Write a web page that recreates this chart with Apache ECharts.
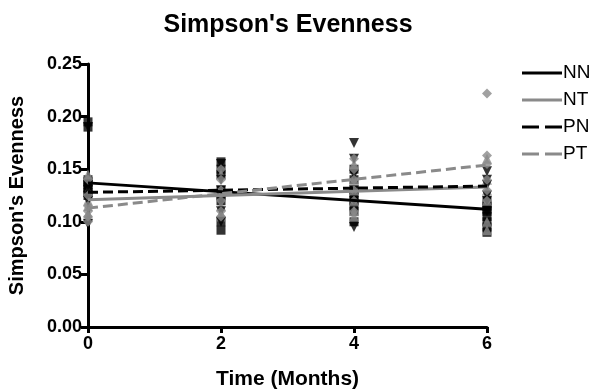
<!DOCTYPE html>
<html><head><meta charset="utf-8">
<script src="https://cdn.jsdelivr.net/npm/echarts@6/dist/echarts.min.js"></script>
<style>html,body{margin:0;padding:0;background:#fff}#c{width:591px;height:391px}</style>
</head><body><div id="c"></div>
<script>
const times = [0, 2, 4, 6];
const xTicks = ['0', '2', '4', '6'];
const yTicks = ['0.00', '0.05', '0.10', '0.15', '0.20', '0.25'];
const groups = ['NN', 'NT', 'PN', 'PT'];
// replicate values per time point
const nnPts = [
  [0.195, 0.190, 0.140, 0.135, 0.132, 0.128, 0.125, 0.138],
  [0.157, 0.150, 0.145, 0.130, 0.125, 0.100, 0.092, 0.120],
  [0.150, 0.140, 0.130, 0.125, 0.115, 0.110, 0.100, 0.120],
  [0.120, 0.115, 0.110, 0.105, 0.100, 0.095, 0.090, 0.112]
];
const ntPts = [
  [0.145, 0.130, 0.120, 0.115, 0.108, 0.105],
  [0.145, 0.130, 0.125, 0.115, 0.108, 0.105],
  [0.155, 0.140, 0.130, 0.120, 0.110, 0.105],
  [0.160, 0.140, 0.130, 0.120, 0.100, 0.092]
];
const pnPts = [
  [0.190, 0.098, 0.130, 0.125, 0.135, 0.120],
  [0.155, 0.140, 0.130, 0.120, 0.110, 0.100],
  [0.175, 0.160, 0.145, 0.130, 0.120, 0.095],
  [0.148, 0.140, 0.135, 0.125, 0.120, 0.110]
];
const ptPts = [
  [0.140, 0.125, 0.115, 0.110, 0.105, 0.100],
  [0.150, 0.140, 0.130, 0.120, 0.110, 0.105],
  [0.160, 0.150, 0.140, 0.130, 0.120, 0.110],
  [0.222, 0.163, 0.155, 0.140, 0.130, 0.120]
];
// fitted regression lines (start at 0 months, end at 6 months)
const fitX = [0, 6];
const nnFit = [0.137, 0.112];
const ntFit = [0.121, 0.133];
const pnFit = [0.128, 0.134];
const ptFit = [0.113, 0.154];

const BLACK = '#000000', GRAY = '#8a8a8a';
const F = '"Liberation Sans", Arial, sans-serif';
const SOLID_ICON = 'path://M0,0H40V3H0Z';
const DASH_ICON = 'path://M0,0H17V3H0Z M23,0H40V3H23Z';

function pts(arr) {
  const out = [];
  arr.forEach((vals, i) => vals.forEach(v => out.push([times[i], v])));
  return out;
}
function fit(arr) { return fitX.map((x, i) => [x, arr[i]]); }

const styles = {
  NN: {color: BLACK, type: 'solid', sym: 'rect', pts: nnPts, fit: nnFit, icon: SOLID_ICON},
  NT: {color: GRAY, type: 'solid', sym: 'triangle', pts: ntPts, fit: ntFit, icon: SOLID_ICON},
  PN: {color: BLACK, type: [10, 5], sym: 'path://M0,0 L10,0 L5,10 Z', pts: pnPts, fit: pnFit, icon: DASH_ICON},
  PT: {color: GRAY, type: [10, 5], sym: 'diamond', pts: ptPts, fit: ptFit, icon: DASH_ICON}
};

const series = [];
groups.forEach(g => {
  const s = styles[g];
  series.push({
    name: g + ' data', type: 'scatter', data: pts(s.pts), symbol: s.sym,
    symbolSize: s.sym === 'rect' ? 9 : 10, itemStyle: {color: s.color}, z: 2, silent: true
  });
});
groups.forEach(g => {
  const s = styles[g];
  series.push({
    name: g, type: 'line', data: fit(s.fit), showSymbol: false, symbol: 'none',
    lineStyle: {color: s.color, width: 3, type: s.type}, itemStyle: {color: s.color}, z: 3
  });
});

const chart = echarts.init(document.getElementById('c'));
chart.setOption({
  animation: false,
  backgroundColor: '#fff',
  title: {text: "Simpson's Evenness", left: 283, top: 8, textAlign: 'center',
    textStyle: {fontFamily: F, fontWeight: 'bold', fontSize: 25, color: '#000'}},
  legend: {
    data: groups.map(g => ({name: g, icon: styles[g].icon,
      itemStyle: {color: styles[g].color, borderWidth: 0}})),
    orient: 'vertical', left: 517, top: 57, itemWidth: 40, itemHeight: 3, itemGap: 5,
    textStyle: {fontFamily: F, fontSize: 19, color: '#000', lineHeight: 22, padding: [0, 0, 0, -4]}
  },
  grid: {left: 88, right: 104, top: 64, bottom: 64, containLabel: false, outerBoundsMode: 'none'},
  xAxis: {
    type: 'value', min: 0, max: 6, interval: 2,
    axisLine: {lineStyle: {color: '#000', width: 3}},
    axisTick: {show: true, length: 6, lineStyle: {color: '#000', width: 3}},
    splitLine: {show: false},
    axisLabel: {fontFamily: F, fontWeight: 'bold', fontSize: 18, color: '#000', margin: 8,
      formatter: v => xTicks[times.indexOf(v)]},
    name: 'Time (Months)', nameLocation: 'middle', nameGap: 42,
    nameTextStyle: {fontFamily: F, fontWeight: 'bold', fontSize: 21, color: '#000'}
  },
  yAxis: {
    type: 'value', min: 0, max: 0.25, interval: 0.05,
    axisLine: {show: true, lineStyle: {color: '#000', width: 3}},
    axisTick: {show: true, length: 7, lineStyle: {color: '#000', width: 3}},
    splitLine: {show: false},
    axisLabel: {fontFamily: F, fontWeight: 'bold', fontSize: 18, color: '#000', margin: 6,
      formatter: v => yTicks[Math.round(v / 0.05)]},
    name: "Simpson's Evenness", nameLocation: 'middle', nameGap: 61, nameRotate: 90,
    nameTextStyle: {fontFamily: F, fontWeight: 'bold', fontSize: 20, color: '#000'}
  },
  series: series
});
</script></body></html>
